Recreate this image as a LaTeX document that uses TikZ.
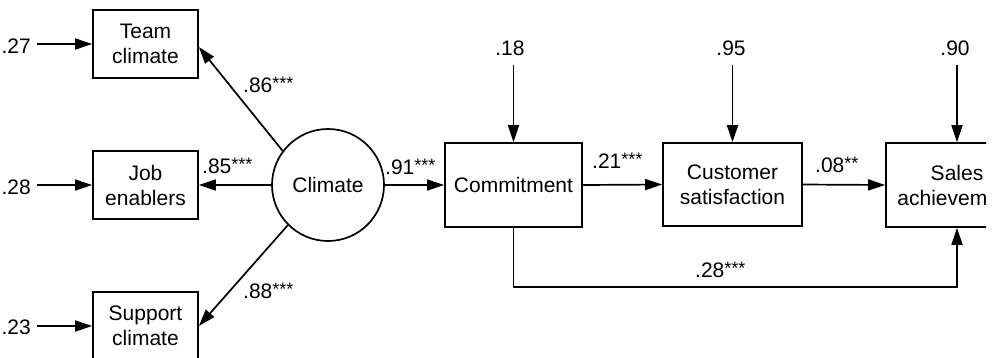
\documentclass[tikz,border=0pt]{standalone}
\usepackage{fontspec}
\setmainfont{Liberation Sans}
\usetikzlibrary{arrows.meta}
% significance stars set smaller and raised
\newcommand\signif[1]{\raisebox{2.5pt}{\fontsize{18}{18}\selectfont #1}}
\begin{document}
\begin{tikzpicture}[x=1pt,y=-1pt,
  txt/.style={font=\fontsize{21}{25}\selectfont, inner sep=0pt},
  box/.style={txt, draw, line width=1.7pt, align=center},
  obs/.style={box, minimum width=105pt, minimum height=68pt},
  mbox/.style={box, minimum height=84pt},
  latent/.style={txt, draw, circle, line width=1.7pt, minimum size=112pt},
  arr/.style={line width=1.7pt, -{Triangle[length=17pt,width=11pt]}},
  coef/.style={txt, anchor=base west},
  resid/.style={txt, anchor=base east},
  topres/.style={txt, anchor=base}]
\path[use as bounding box] (0,0) rectangle (995,357);
\clip (0,0) rectangle (986,357);

% indicators of the climate factor
\node[obs] (tc) at (145.5,44)  {Team\\climate};
\node[obs] (je) at (145.5,185) {Job\\enablers};
\node[obs] (sc) at (145.5,326) {Support\\climate};
\node[latent] (clim) at (328,185) {Climate};

% outcome chain
\node[mbox, minimum width=137pt] (com) at (513.5,185) {Commitment};
\node[mbox, minimum width=139pt, minimum height=83pt] (cs) at (732.5,184.5) {Customer\\satisfaction};
\node[mbox, minimum width=142pt] (sal) at (957,185) {Sales\\achievement};

% residual terms of the indicators
\coordinate (r1) at (37,44);
\coordinate (r2) at (37,185);
\coordinate (r3) at (37,326);
\node[resid] (rt1) at (31,53)  {.27};
\node[resid] (rt2) at (31,194) {.28};
\node[resid] (rt3) at (31,334) {.23};
\draw[arr] (r1) -- (tc.west);
\draw[arr] (r2) -- (je.west);
\draw[arr] (r3) -- (sc.west);

% residual terms of the outcomes
\coordinate (u1) at (513.5,65);
\coordinate (u2) at (732.5,65);
\coordinate (u3) at (957,65);
\node[topres] (ut1) at (510,55) {.18};
\node[topres] (ut2) at (731,55) {.95};
\node[topres] (ut3) at (955,55) {.90};
\draw[arr] (u1) -- (com.north);
\draw[arr] (u2) -- (cs.north);
\draw[arr] (u3) -- (sal.north);

% loadings
\draw[arr] (clim.143) -- ([yshift=-3pt]tc.east);
\draw[arr] (clim.west) -- (je.east);
\draw[arr] (clim.225) -- (sc.east);
\node[coef] (l1) at (243,92)  {.86\signif{***}};
\node[coef] (l2) at (202,173) {.85\signif{***}};
\node[coef] (l3) at (243,298) {.88\signif{***}};

% structural paths
\draw[arr] (clim.east) -- (com.west);
\draw[arr] (com.east) -- (cs.west);
\draw[arr] (cs.east) -- (sal.west);
\draw[arr] (com.south) -- ++(0,59) -| (sal.south);
\node[coef] (p1) at (385,174) {.91\signif{***}};
\node[coef] (p2) at (592,168) {.21\signif{***}};
\node[coef] (p3) at (815,172) {.08\signif{**}};
\node[coef] (p4) at (695,277) {.28\signif{***}};
\end{tikzpicture}
\end{document}
